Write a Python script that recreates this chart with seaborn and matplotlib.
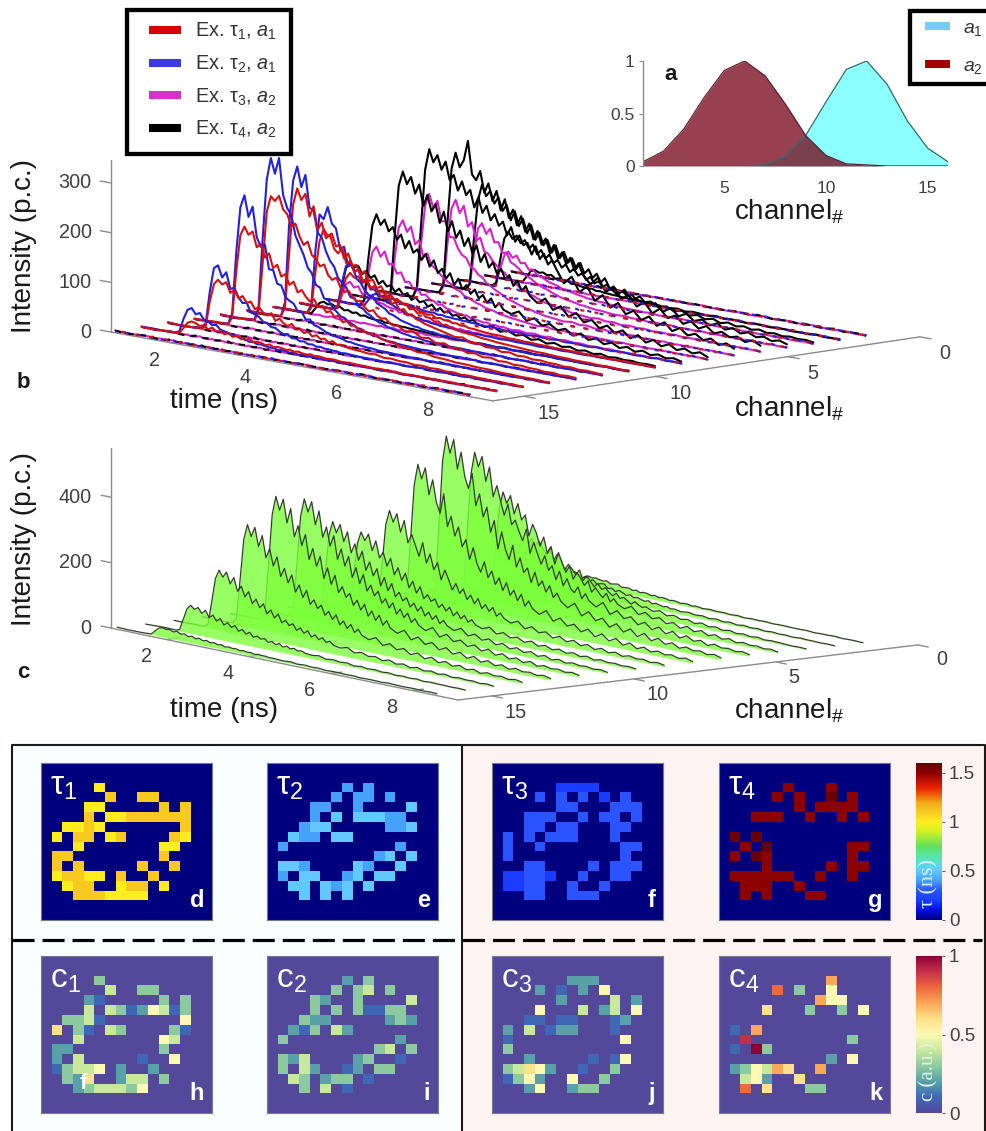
"""Multiplexed lifetime figure: spectra, photon-count waterfalls and pixel maps"""
import matplotlib
matplotlib.use("Agg")
import matplotlib.pyplot as plt
import numpy as np
import seaborn as sns
from matplotlib.colors import LinearSegmentedColormap
from matplotlib.lines import Line2D
from matplotlib.patches import Rectangle
from matplotlib.transforms import Affine2D

W, H = 987, 1131

# panel a spectra
CHANNELS = [1, 2, 3, 4, 5, 6, 7, 8, 9, 10, 11, 12, 13, 14, 15, 16]
A1 = [0, 0, 0, 0, 0, 0, 0.01, 0.09, 0.29, 0.61, 0.92, 1.0, 0.78, 0.43, 0.17, 0.04]
A2 = [0.04, 0.14, 0.35, 0.65, 0.91, 1.0, 0.86, 0.59, 0.29, 0.10, 0.02, 0.01, 0, 0, 0, 0]

TIME_NS = [0.67, 0.9, 1.15, 1.41, 1.5, 1.59, 1.68, 1.77, 1.86, 1.95, 2.04, 2.13, 2.22, 2.31, 2.4, 2.49, 2.58,
           2.67, 2.76, 2.85, 2.94, 3.03, 3.12, 3.21, 3.3, 3.39, 3.48, 3.57, 3.66, 3.75, 3.84, 3.93, 4.02,
           4.11, 4.2, 4.29, 4.38, 4.47, 4.56, 4.73, 4.9, 5.07, 5.24, 5.41, 5.58, 5.75, 5.92, 6.09, 6.26,
           6.43, 6.6, 6.77, 6.94, 7.11, 7.28, 7.45, 7.62, 7.79, 7.96, 8.13, 8.3, 8.47]

# panel b, photon counts per channel
RED = {
    15: [1,0,2,1,3,14,26,30,28,24,27,20,25,19,21,16,20,14,17,15,12,16,11,13,12,9,12,8,10,9,7,9,6,8,6,5,7,5,6,4,5,3,4,3,3,2,3,2,2,1,2,1,2,1,1,2,1,1,0,1,1,0],
    14: [2,1,1,2,9,60,96,106,98,104,84,92,76,82,70,74,60,66,56,52,58,44,50,42,38,44,34,36,30,34,26,30,24,26,20,24,18,20,17,15,14,12,13,9,10,8,8,6,7,5,6,4,5,3,4,3,3,2,3,2,2,1],
    13: [1,2,3,2,18,112,186,205,190,198,168,176,150,160,132,140,118,124,104,112,92,98,86,78,84,70,74,62,66,56,60,48,52,44,46,38,40,34,36,30,26,24,20,19,15,16,12,11,10,8,8,7,6,6,5,4,4,3,3,3,2,2],
    12: [2,1,2,3,20,120,225,258,250,262,236,228,205,212,188,172,180,155,148,135,140,120,112,118,100,92,96,84,78,80,68,62,66,56,52,54,46,42,44,34,38,28,30,22,25,18,20,14,16,11,13,9,10,7,8,6,6,4,5,3,4,3],
    11: [3,1,2,3,22,130,232,266,244,258,214,236,190,206,176,184,158,150,162,132,140,118,126,104,108,92,98,84,76,82,68,72,58,62,52,54,46,44,40,36,32,28,24,26,18,20,15,16,11,13,9,10,7,8,6,6,4,5,3,4,3,2],
    10: [1,2,2,1,14,88,150,176,164,170,146,150,124,136,112,116,98,106,88,92,76,82,68,72,60,62,54,56,46,48,40,44,36,36,30,32,26,28,24,20,18,17,14,13,11,10,9,8,7,6,6,5,4,4,3,3,3,2,2,2,1,2],
    9: [2,1,1,1,7,40,68,80,72,76,64,70,56,62,52,54,44,50,40,42,36,38,30,33,28,28,24,26,20,22,19,20,16,17,14,15,12,12,11,9,8,8,6,6,5,5,4,4,3,3,3,2,2,2,2,1,1,2,1,1,1,0],
}
BLUE = {
    15: [1,2,1,2,6,32,52,57,46,50,38,36,30,32,24,22,20,18,17,13,14,10,11,8,9,7,6,6,4,5,4,3,4,2,3,2,3,2,2,1,2,1,1,2,1,1,0,1,1,0,1,1,0,1,0,0,1,0,1,1,0,1],
    14: [2,1,1,3,14,80,128,135,112,124,92,96,78,68,70,52,50,46,38,36,30,30,24,20,22,15,16,12,13,9,10,7,8,6,6,5,5,3,4,3,2,2,2,1,2,1,1,1,2,1,0,1,1,0,1,1,0,1,0,1,0,1],
    13: [1,2,2,4,26,150,242,268,226,248,188,170,176,128,128,102,100,78,72,68,54,54,40,42,32,30,26,22,20,17,16,14,11,11,9,8,7,6,6,4,4,3,3,2,3,1,2,1,1,2,1,0,1,1,0,1,0,1,1,1,0,1],
    12: [2,1,2,4,30,170,290,335,305,338,265,240,228,188,170,152,128,118,96,92,72,70,58,50,42,40,33,30,24,24,19,18,14,15,11,10,9,9,7,6,5,4,5,3,3,2,3,2,2,1,2,1,1,1,0,1,1,0,1,0,1,0],
    11: [2,1,3,3,32,188,280,310,270,296,232,226,184,176,150,132,122,100,92,84,66,66,50,48,40,36,30,26,24,20,18,16,14,12,11,9,9,8,6,5,5,3,3,3,2,2,2,1,2,1,1,1,1,0,1,0,1,1,0,1,1,0],
    10: [1,2,2,2,20,130,204,196,222,190,182,142,148,110,116,88,82,68,60,58,46,42,38,30,28,24,20,18,16,13,13,10,9,8,8,6,5,6,4,3,3,2,2,2,1,2,1,1,0,1,1,1,0,1,0,1,0,0,1,1,0,1],
    9: [1,1,2,1,10,56,92,100,84,90,68,72,54,56,42,46,34,32,28,24,22,18,17,14,13,11,10,8,8,6,6,5,5,4,3,3,3,2,3,2,2,1,2,1,1,1,0,1,1,0,1,0,0,1,0,1,1,0,0,1,0,1],
}
MAGENTA = {
    9: [1,1,0,2,5,32,56,62,52,56,42,46,36,38,30,30,26,24,24,18,20,15,17,13,14,10,12,9,10,8,9,6,8,5,7,5,6,4,5,3,5,3,4,2,3,2,3,1,3,1,2,1,2,1,2,0,1,1,1,0,1,0],
    8: [1,0,1,2,10,66,112,125,106,118,94,96,78,82,64,66,54,56,44,46,38,36,30,32,26,25,22,20,18,19,15,14,13,11,12,9,10,8,9,6,8,5,7,4,6,3,5,3,4,2,3,2,3,1,2,1,2,1,2,1,1,0],
    7: [1,2,1,1,14,90,154,170,148,160,126,136,104,112,90,84,76,68,62,58,50,48,40,38,34,30,28,24,22,21,18,16,15,13,12,11,10,9,8,6,8,5,6,4,5,3,4,3,3,2,3,2,2,1,2,1,2,1,1,1,1,0],
    6: [2,1,1,3,18,112,190,215,188,204,164,166,136,136,116,104,100,84,80,70,66,56,52,46,42,38,32,30,27,24,22,18,18,15,14,12,11,10,9,7,9,6,7,4,6,3,5,3,4,2,3,2,3,1,2,1,2,1,2,1,1,1],
    5: [1,1,2,2,16,104,176,195,170,186,146,156,120,128,102,98,86,78,70,66,56,54,46,40,38,32,30,26,24,20,20,16,15,13,13,10,10,8,8,6,8,5,6,3,5,3,4,2,3,2,3,1,2,1,2,1,1,1,1,0,1,0],
    4: [1,2,1,1,12,74,128,140,120,132,106,108,88,90,72,68,62,54,50,46,40,36,32,30,26,23,20,18,16,15,13,11,11,9,8,7,7,6,5,4,5,3,4,2,3,2,3,1,2,1,2,1,1,1,1,0,1,1,0,1,0,1],
    3: [0,1,1,1,6,38,66,75,64,70,56,58,46,48,38,36,32,28,26,24,20,18,17,15,13,12,10,9,9,7,7,6,5,5,4,4,3,3,3,2,3,1,2,1,2,1,1,1,1,0,1,1,0,1,0,1,0,1,0,0,1,0],
}
BLACK = {
    9: [1,0,2,1,7,50,88,100,92,97,82,90,77,84,68,76,66,70,58,66,55,60,48,54,46,50,40,46,36,42,34,39,31,34,28,32,26,30,24,20,25,16,21,14,18,11,15,9,13,8,11,6,9,5,8,4,6,4,5,3,4,3],
    8: [1,2,1,2,13,96,166,190,170,182,160,170,146,158,132,148,126,134,114,128,104,118,94,104,86,98,76,90,70,80,64,74,58,66,52,62,46,56,44,38,46,30,38,26,32,22,28,17,24,14,20,11,17,9,14,7,12,6,10,5,8,4],
    7: [2,1,3,2,20,136,238,268,244,260,228,248,206,230,198,214,178,202,164,186,154,170,140,158,128,146,114,132,106,118,96,108,88,98,78,90,70,82,64,52,64,44,54,36,46,30,38,24,32,20,28,15,24,12,20,10,17,8,14,7,12,5],
    6: [2,3,1,2,24,150,262,305,280,296,268,286,250,262,232,252,226,238,204,226,196,212,184,198,176,186,160,178,150,164,146,152,130,148,124,136,116,126,110,84,100,72,86,60,74,52,64,44,54,38,48,32,42,27,36,24,30,20,26,16,22,14],
    5: [1,2,2,3,22,146,256,290,262,278,318,252,242,262,220,240,206,228,190,214,178,196,166,186,156,174,144,162,136,150,122,140,114,128,106,120,96,112,92,74,90,64,78,56,66,46,58,38,50,34,42,28,36,24,32,20,26,18,22,14,20,12],
    4: [1,1,2,1,15,104,184,218,196,208,184,198,172,186,156,176,148,164,136,154,126,142,118,130,106,122,98,112,92,102,82,96,76,86,70,80,64,74,58,46,58,40,50,34,42,28,38,24,32,20,26,17,24,14,20,12,17,10,14,8,12,7],
    3: [0,2,1,1,8,56,100,115,102,110,96,104,88,98,80,90,74,84,68,76,62,70,56,64,52,58,46,54,42,48,38,44,36,40,32,36,28,34,26,22,26,17,22,15,19,12,16,10,14,8,12,7,10,6,9,5,7,4,6,4,5,3],
}
SMALL_PEAK = [1,2,1,1,2,14,26,30,26,28,24,26,20,22,18,20,15,17,14,13,12,13,10,11,9,9,8,8,7,7,6,6,5,5,4,5,4,4,3,2,4,1,3,2,1,3,1,2,1,0,2,1,0,2,1,0,1,0,2,0,1,0]
FLOOR_RED = [1,2,0,1,3,2,1,2,0,1,2,1,3,1,0,2,1,1,2,0,1,2,1,0,1,2,0,1,1,2,0,1,1,0,2,1,0,1,1,0,1,2,0,1,1,3,1,0,2,1,0,1,2,0,1,3,0,1,2,0,1,1]
FLOOR_BLUE = [0,1,2,0,1,3,0,1,2,2,0,1,1,3,1,0,2,0,1,2,1,0,2,1,0,1,2,1,0,1,2,0,1,2,0,1,1,0,2,1,0,1,1,2,0,1,3,0,1,1,2,0,1,2,0,1,1,3,0,2,1,0]
FLOOR_MAGENTA = [2,0,1,2,0,1,2,0,1,3,1,0,2,0,2,1,0,2,1,1,0,2,0,1,2,0,1,0,2,1,1,2,0,1,1,0,2,1,0,1,2,0,1,0,1,2,0,1,3,0,1,2,1,0,2,1,0,1,2,1,0,2]
FLOOR_BLACK = [1,0,1,3,1,0,2,1,3,0,1,2,0,1,2,1,3,0,1,1,2,0,1,2,1,0,2,1,1,0,1,1,2,0,1,2,0,1,1,2,0,1,0,1,2,1,0,3,1,0,1,2,0,2,1,0,1,3,0,1,2,0]

# panel c, total counts per channel
TOTAL = {
    1: [0,1,0,1,2,14,26,30,27,29,26,24,27,20,22,24,17,18,19,14,17,12,15,14,10,13,9,11,10,7,9,8,5,7,7,4,6,5,3,5,3,4,2,4,1,3,2,3,1,2,2,1,1,2,0,1,1,2,0,1,1,0],
    2: [1,0,1,2,5,32,60,70,62,68,56,63,58,49,54,44,50,39,43,44,33,36,28,34,29,23,28,21,24,20,17,21,14,18,15,12,15,10,12,8,11,7,9,5,8,4,7,3,6,3,5,2,4,2,3,1,3,2,2,1,2,1],
    3: [1,1,2,1,11,74,140,165,148,162,144,126,148,112,134,118,92,110,98,82,100,70,86,72,58,70,54,62,50,42,52,38,44,36,28,38,30,25,29,20,26,15,21,13,17,9,15,8,12,6,10,5,8,4,7,3,5,4,3,2,3,2],
    4: [1,2,2,3,20,144,270,318,286,312,258,292,244,262,200,238,214,176,206,158,182,130,168,138,112,134,96,118,104,84,100,68,84,70,58,74,50,62,48,38,50,29,40,25,33,19,27,14,24,12,20,9,16,7,13,5,10,6,8,4,7,3],
    5: [2,1,3,3,28,204,382,450,408,442,368,414,326,362,318,276,312,252,268,236,210,248,176,212,180,150,178,136,152,112,140,98,122,94,84,104,70,88,68,54,72,40,56,36,46,26,38,20,32,16,28,12,23,11,18,7,15,8,11,6,10,5],
    6: [2,3,1,4,30,230,432,510,460,504,416,470,398,364,412,316,354,286,318,244,282,198,252,202,172,218,154,184,142,158,116,150,110,128,96,118,84,100,78,62,80,46,63,40,52,29,44,23,37,18,32,14,26,12,21,9,17,10,14,7,12,6],
    7: [1,3,2,3,26,196,368,434,392,428,348,396,330,298,360,262,296,238,268,210,234,176,214,168,144,178,132,154,116,138,102,128,92,110,80,102,68,86,66,52,68,40,54,34,44,25,38,19,32,15,27,11,22,9,18,8,15,8,12,6,11,5],
    8: [1,2,3,2,18,136,258,303,270,298,244,282,216,244,214,182,226,166,196,150,174,124,156,130,100,122,94,110,80,96,72,90,62,76,58,72,48,60,46,36,46,27,38,24,31,17,26,14,23,11,19,8,16,7,13,5,11,6,9,4,8,4],
    9: [2,1,1,3,15,112,211,248,224,246,198,230,180,200,160,186,138,162,126,150,108,130,96,118,84,98,80,90,66,78,60,74,50,64,46,58,40,50,36,29,38,22,30,19,25,14,22,11,18,9,15,7,13,6,11,4,9,5,7,4,6,3],
    10: [1,3,2,2,17,130,246,290,258,286,236,268,206,236,188,218,162,190,150,174,124,152,114,138,100,116,92,104,78,92,70,86,60,74,54,68,46,58,44,34,45,26,36,22,30,17,25,13,21,11,18,8,15,6,12,5,10,6,8,4,7,3],
    11: [2,2,3,3,22,166,314,370,332,366,298,342,264,298,242,276,206,240,190,222,160,192,146,176,128,148,118,134,100,116,90,108,76,94,70,86,60,74,56,44,58,33,46,28,37,22,31,17,27,13,22,10,18,8,16,6,12,7,10,5,9,4],
    12: [1,2,2,4,24,175,330,388,348,384,314,360,276,312,254,290,216,252,200,232,168,202,154,184,134,154,124,138,104,122,94,114,80,98,72,90,62,78,58,46,60,35,48,30,40,22,33,18,28,14,24,11,20,9,16,7,14,8,11,6,10,5],
    13: [2,1,1,3,19,140,265,312,278,308,252,288,222,252,202,232,174,202,160,186,136,160,124,148,108,124,100,112,84,98,76,92,64,78,58,72,50,62,46,37,48,28,38,24,32,18,27,14,23,11,19,9,16,7,13,5,11,6,9,4,8,4],
    14: [1,1,2,2,11,82,155,183,164,182,148,170,130,148,118,136,102,118,94,108,80,94,72,86,62,72,58,66,48,58,44,54,37,46,34,42,30,36,26,22,28,16,22,14,18,10,16,8,13,6,11,5,9,4,8,3,6,4,5,2,5,2],
    15: [0,1,2,1,5,39,73,86,76,84,68,80,60,70,54,64,47,56,44,52,37,45,33,41,28,34,27,31,22,27,20,25,17,22,16,20,14,17,12,10,13,7,10,7,9,4,7,4,6,3,5,2,4,2,4,1,3,2,2,1,2,1],
    16: [1,0,0,1,2,13,24,28,25,27,22,26,20,23,17,21,15,19,14,17,12,15,11,13,9,11,9,10,7,9,7,8,5,7,6,6,4,5,4,3,5,2,4,2,3,1,2,2,1,2,0,1,1,0,2,1,0,1,1,0,1,0],
}

# pixel maps, rows 2 to 13 of 16, one base-36 digit per pixel in tenths, "." is empty
TAU1 = [".....a..........", "......b..bb.....", "....aa.....b.b..", "....b.aabbbbbb..",
        "..aaba.......b..", ".a.bb.ab....ba..", "...a.......aa...", ".bb........b....",
        ".b.b.....b..b...", ".abbaa.b..b.....", "..abb..abb.a....", "...bbbaaaa......"]
TAU2 = [".......4.4......", "......4.44.4....", "....44..4....5..", "....4.5.55544...",
        "...455.....445..", "..544.55........", ".4..........4...", "..........45.5..",
        ".554....54..5...", ".4.55..45.55....", "..55.545.5......", "...5.5.5........"]
TAU3 = ["......2222......", "....3.3.3.2.3...", "......33...333..", "...333..3.33.3..",
        "...33.33...33...", ".3.3.333...3....", ".3..3.......33..", ".3..........3...",
        "...33....3.333..", ".22332..3..33...", ".2233..3..3.....", "...33..333......"]
TAU4 = ["......f...f.....", ".....f.f..g.f...", ".......f.ffff...", "...fff..f..f.f..",
        "................", ".g.g............", "..f.g.......ff..", ".f.gf.......f...",
        "....f.....f.ff..", ".ffffff..f..f...", "..fff..f........", "..f.f...ff......"]
COEF1 = [".....3..........", "......4..33.....", "....21.....3.3..", "....4.43125413..",
         "..3341.......5..", ".6.31.43....31..", "...4.......54...", ".22........3....",
         ".2.4.....1..5...", ".13445.2..2.....", "..326..244.3....", "...2344435......"]
COEF2 = [".......2.3......", "......3.34.3....", "....32..3....4..", "....3.3.31133...",
         "...322.....232..", "..213.42........", ".3..........2...", "..........34.3..",
         ".324....23..1...", ".3.42..12.33....", "..43.233.1......", "...3.4.1........"]
COEF3 = [".......222......", "....2.1.2.5.....", "......2....4.2..", "....5...4.24.5..",
         "...11.11...12...", ".2.4.122...1....", ".1..........5...", ".3..............",
         "...2.....1.15...", ".34652..1..3....", ".1352..5..3.....", "...25..233......"]
COEF4 = ["..........7.....", ".....8.3..5.....", ".........755....", "....6...3..3.5..",
         "................", ".1.7............", "..9.........3...", ".1.a3...........",
         "..........2.5...", ".235476..7......", "..452..6........", "..8.6...33......"]

TAU_STOPS = [0, 0.1, 0.2, 0.3, 0.4, 0.5, 0.6, 0.75, 0.9, 1.0, 1.1, 1.2, 1.35, 1.5, 1.6]
TAU_COLORS = ["#00007f", "#0010e0", "#1a3cff", "#2a55ff", "#46a0f8", "#62c8ff", "#55e6c8", "#60e060",
              "#d0f020", "#ffee20", "#f8cc20", "#f0a818", "#e82000", "#8e0000", "#6a0000"]
COEF_COLORS = ["#54489a", "#3f68b5", "#5aa0a8", "#8ecaa0", "#c8e89c", "#fdf8b5", "#fde08a", "#f9a858",
               "#ee6840", "#c83048", "#8e0038"]

PANEL_B = dict(x0=110.7, y0=332, sx=45.5, sy=8.2, cx=26.4, cy=3.96, sz=0.497, t0=0.67, tmax=9.07, cmax=16.17)
PANEL_C = dict(x0=110.7, y0=628, sx=41, sy=8.5, cx=28.4, cy=3.4, sz=0.327, t0=0.65, tmax=9.12, cmax=16.2)


def pixel_cells(rows):
    """Turn the digit rows into a 16x16 array"""
    blank = "." * 16
    rows = [blank] * 2 + list(rows) + [blank] * 2
    return np.array([[0 if c == "." else int(c, 36) / 10 for c in r] for r in rows])


def px_axes(fig, left, top, right, bottom):
    """Axes placed with reference pixel edges"""
    return fig.add_axes([left / W, 1 - bottom / H, (right - left) / W, (bottom - top) / H])


def stack_transform(ax, geo, channel):
    """(time, counts) of one channel to the oblique waterfall position"""
    depth = geo["cmax"] - channel
    matrix = Affine2D.from_values(geo["sx"], geo["sy"], 0, -geo["sz"],
                                  geo["x0"] + geo["cx"] * depth - geo["sx"] * geo["t0"],
                                  geo["y0"] - geo["cy"] * depth - geo["sy"] * geo["t0"])
    return matrix + ax.transData


def draw_trace(ax, geo, channel, values, color, width, style="-"):
    n = min(len(values), len(TIME_NS))
    sns.lineplot(x=TIME_NS[:n], y=values[:n], ax=ax, color=color, lw=width, estimator=None, sort=False,
                 legend=False, linestyle=style, transform=stack_transform(ax, geo, channel), zorder=3)


def draw_series(ax, channel, traces, floor, color, floor_style, small_at=()):
    """Measured trace if the channel has one, otherwise the low background, broken up"""
    if channel in traces:
        draw_trace(ax, PANEL_B, channel, traces[channel], color, 1.5)
    elif channel in small_at:
        draw_trace(ax, PANEL_B, channel, SMALL_PEAK, color, 1.5)
    else:
        draw_trace(ax, PANEL_B, channel, floor, color, 1.5, floor_style)


def draw_box(ax, geo, ztop, zticks, time_offset, chan_offsets):
    """Grey axes, ticks and tick labels of one waterfall"""
    grey = "#8c8c8c"
    label = dict(fontsize=14.3, color="#404040", textcoords="offset pixels", ha="center", va="center")
    front = stack_transform(ax, geo, geo["cmax"])
    back = stack_transform(ax, geo, 0)
    ax.plot([geo["t0"], geo["t0"]], [0, ztop], color=grey, lw=1, transform=front, zorder=2)
    ax.plot([geo["t0"], geo["tmax"]], [0, 0], color=grey, lw=1, transform=front, zorder=2)
    for z in zticks:
        ax.plot([geo["t0"] - 0.23, geo["t0"]], [z, z], color=grey, lw=1, transform=front, zorder=2)
        ax.annotate(str(z), xy=(geo["t0"], z), xycoords=front, xytext=(-19, 0),
                    **{**label, "ha": "right"})
    for t in [2, 4, 6, 8]:
        ax.annotate("", xy=(t, 0), xycoords=stack_transform(ax, geo, geo["cmax"] - 0.4), xytext=(t, 0),
                    textcoords=front, arrowprops=dict(arrowstyle="-", color=grey, lw=1, shrinkA=0, shrinkB=0))
        ax.annotate(str(t), xy=(t, 0), xycoords=front, xytext=time_offset, **label)
    ax.annotate("", xy=(geo["tmax"], 0), xycoords=back, xytext=(geo["tmax"], 0), textcoords=front,
                arrowprops=dict(arrowstyle="-", color=grey, lw=1, shrinkA=0, shrinkB=0))
    for c, off in zip([15, 10, 5, 0], chan_offsets):
        tr = stack_transform(ax, geo, c)
        ax.plot([geo["tmax"], geo["tmax"] + 0.25], [0, 0], color=grey, lw=1, transform=tr, zorder=2)
        ax.annotate(str(c), xy=(geo["tmax"], 0), xycoords=tr, xytext=off, **label)


sns.set_theme(style="white")
plt.rcParams["font.family"] = ["Liberation Sans", "DejaVu Sans"]
plt.rcParams["mathtext.fontset"] = "custom"
plt.rcParams["mathtext.rm"] = "Liberation Sans"
plt.rcParams["mathtext.it"] = "Liberation Sans:italic"
plt.rcParams["mathtext.bf"] = "Liberation Sans:bold"

fig = plt.figure(figsize=(W / 100, H / 100), dpi=100, facecolor="white")
ax = fig.add_axes([0, 0, 1, 1])
ax.set_xlim(0, W)
ax.set_ylim(H, 0)
ax.axis("off")

# background boxes at the bottom
ax.add_patch(Rectangle((12, 745), 450, H - 745, fc="#f9feff", ec="none", zorder=0))
ax.add_patch(Rectangle((462, 745), 523, H - 745, fc="#fdf3f0", ec="none", zorder=0))
ax.plot([12, 12, 985, 985], [H, 745, 745, H], color="#1a1a1a", lw=1.5, zorder=1)
ax.plot([462, 462], [745, H], color="#1a1a1a", lw=1.5, zorder=1)
ax.plot([12, 982], [940, 940], color="black", lw=2.3, linestyle=(0, (6.9, 2.5)), zorder=1)

# panel b
draw_box(ax, PANEL_B, 346, [0, 100, 200, 300], (-17, -18), [(25, -17), (25, -17), (25, -17), (25, -17)])
for ch in CHANNELS:
    draw_series(ax, ch, MAGENTA, FLOOR_MAGENTA, "#d820c8", "-")
    draw_series(ax, ch, BLACK, FLOOR_BLACK, "black", (0, (3, 3)), small_at=(2, 10))
for ch in CHANNELS:
    draw_series(ax, ch, BLUE, FLOOR_BLUE, "#2020e0", (1.5, (2, 4)), small_at=(8,))
    draw_series(ax, ch, RED, FLOOR_RED, "#d80f0f", (4, (2, 5)))

# panel c
draw_box(ax, PANEL_C, 550, [0, 200, 400], (-20, -17), [(24, -17), (24, -16), (18, -16), (24, -15)])
for ch in CHANNELS:
    counts = TOTAL[ch]
    tr = stack_transform(ax, PANEL_C, ch)
    ax.fill_between(TIME_NS[:len(counts)], counts[:len(TIME_NS)], 0, transform=tr, color="#7dff3c", alpha=0.8,
                    lw=0, zorder=3)
    draw_trace(ax, PANEL_C, ch, counts, "#333d2c", 0.9)

# axis words
for y_mid in (246, 539):
    ax.text(24, y_mid, "Intensity (p.c.)", rotation=90, ha="center", va="center", fontsize=20, color="#1a1a1a")
for y_mid in (401, 710):
    ax.text(224, y_mid, "time (ns)", ha="center", va="center", fontsize=20, color="#1a1a1a")
for y_mid in (409, 711):
    ax.text(789, y_mid, "channel$_{\\#}$", ha="center", va="center", fontsize=20, color="#1a1a1a")
ax.text(23, 382, "b", fontsize=16, fontweight="bold", ha="center", va="center", color="#1a1a1a")
ax.text(23, 672, "c", fontsize=16, fontweight="bold", ha="center", va="center", color="#1a1a1a")

# legends
ax.add_patch(Rectangle((127, 10), 164, 144, fc="white", ec="black", lw=3.1, zorder=5))
line_handles = [Line2D([], [], color=c, lw=5.8, solid_capstyle="butt")
                for c in ("#d80000", "#3a3ae0", "#d830c8", "black")]
line_labels = ["Ex. τ$_1$, $a_1$", "Ex. τ$_2$, $a_1$", "Ex. τ$_3$, $a_2$", "Ex. τ$_4$, $a_2$"]
legend_b = ax.legend(line_handles, line_labels, loc="upper left", bbox_to_anchor=(149, 21),
                     bbox_transform=ax.transData, fontsize=14.3, frameon=False, borderaxespad=0, borderpad=0,
                     labelspacing=0.57, handlelength=1.6, handletextpad=0.7, labelcolor="#333333")
legend_b.set_zorder(6)
ax.add_artist(legend_b)
ax.add_patch(Rectangle((910, 11), 100, 73, fc="white", ec="black", lw=3.1, zorder=5))
spec_handles = [Line2D([], [], color=c, lw=5.8, solid_capstyle="butt") for c in ("#7cc8f8", "#a00000")]
legend_a = ax.legend(spec_handles, ["$a_1$", "$a_2$"], loc="upper left", bbox_to_anchor=(925, 19),
                     bbox_transform=ax.transData, fontsize=14, frameon=False, borderaxespad=0, borderpad=0,
                     labelspacing=1.03, handlelength=1.29, handletextpad=0.67, labelcolor="#333333")
legend_a.set_zorder(6)

# panel a
ax_a = px_axes(fig, 643, 61, 948, 166)
ax_a.patch.set_alpha(0)
ax_a.fill_between(CHANNELS, A1, 0, color="#00ffff", alpha=0.45, lw=0)
ax_a.fill_between(CHANNELS, A2, 0, color="#730016", alpha=0.75, lw=0)
sns.lineplot(x=CHANNELS, y=A1, ax=ax_a, color="#2f6a6e", lw=0.9, legend=False)
sns.lineplot(x=CHANNELS, y=A2, ax=ax_a, color="#5c2030", lw=0.9, legend=False)
ax_a.set_xlim(1, 16)
ax_a.set_ylim(0, 1)
ax_a.set_xticks([5, 10, 15])
ax_a.set_yticks([0, 0.5, 1])
ax_a.set_yticklabels(["0", "0.5", "1"])
ax_a.tick_params(axis="x", labelsize=12.5, labelcolor="#404040", bottom=False, pad=5)
ax_a.tick_params(axis="y", labelsize=12.5, labelcolor="#404040", left=True, length=3, width=0.8,
                 color="#8c8c8c", pad=3)
sns.despine(ax=ax_a, bottom=True)
ax_a.spines["left"].set_color("#8c8c8c")
ax_a.spines["left"].set_linewidth(1)
ax.text(671, 75, "a", fontsize=16, fontweight="bold", ha="center", va="center", color="#1a1a1a", zorder=7)

# pixel maps
tau_cmap = LinearSegmentedColormap.from_list("tau_map", [(s / 1.6, c) for s, c in zip(TAU_STOPS, TAU_COLORS)], N=256)
coef_cmap = LinearSegmentedColormap.from_list("coef_map", COEF_COLORS, N=256)

COLUMN_EDGES = [(41, 212), (267, 438), (492, 663), (719, 890)]
TAU_MAPS = [TAU1, TAU2, TAU3, TAU4]
COEF_MAPS = [COEF1, COEF2, COEF3, COEF4]
cax_tau = px_axes(fig, 916, 763, 942, 920)
cax_coef = px_axes(fig, 916, 956, 942, 1113)

for i, (left, right) in enumerate(COLUMN_EDGES):
    ax_t = px_axes(fig, left, 763, right, 920)
    sns.heatmap(pixel_cells(TAU_MAPS[i]), ax=ax_t, cmap=tau_cmap, vmin=0, vmax=1.6, cbar=i == 3,
                cbar_ax=cax_tau if i == 3 else None, xticklabels=False, yticklabels=False)
    ax_c = px_axes(fig, left, 956, right, 1113)
    sns.heatmap(pixel_cells(COEF_MAPS[i]), ax=ax_c, cmap=coef_cmap, vmin=0, vmax=1, cbar=i == 3,
                cbar_ax=cax_coef if i == 3 else None, xticklabels=False, yticklabels=False)
    for a, word, tag in ((ax_t, "τ", "defg"[i]), (ax_c, "c", "hijk"[i])):
        for side in a.spines.values():
            side.set_visible(True)
            side.set_color("#7a7a8a")
            side.set_linewidth(0.8)
        a.text(0.05, 0.95, f"{word}$_{i + 1}$", transform=a.transAxes, color="white", fontsize=24,
               ha="left", va="top")
        a.text(0.955, 0.05, tag, transform=a.transAxes, color="white", fontsize=17, fontweight="bold",
               ha="right", va="bottom")
    if i == 0:
        ax_c.text(0.245, 0.19, "f", transform=ax_c.transAxes, color="white", fontsize=16, fontweight="bold",
                  ha="center", va="center")

cax_tau.set_yticks([0, 0.5, 1, 1.5])
cax_tau.set_yticklabels(["0", "0.5", "1", "1.5"])
cax_coef.set_yticks([0, 0.5, 1])
cax_coef.set_yticklabels(["0", "0.5", "1"])
for cax in (cax_tau, cax_coef):
    cax.tick_params(labelsize=13.5, labelcolor="#404040", length=2, width=0.6, color="#404040", pad=3)
cax_tau.text(0.5, 0.23, "τ (ns)", transform=cax_tau.transAxes, rotation=90, color="#e0ecff", fontsize=16,
             family="Liberation Serif", ha="center", va="center")
cax_coef.text(0.5, 0.26, "c (a.u.)", transform=cax_coef.transAxes, rotation=90, color="#e0f4e4", fontsize=15,
              family="Liberation Serif", ha="center", va="center")

# channel label of panel a
ax.text(789, 212, "channel$_{\\#}$", ha="center", va="center", fontsize=20, color="#1a1a1a")

fig.savefig("out.png", dpi=100)
